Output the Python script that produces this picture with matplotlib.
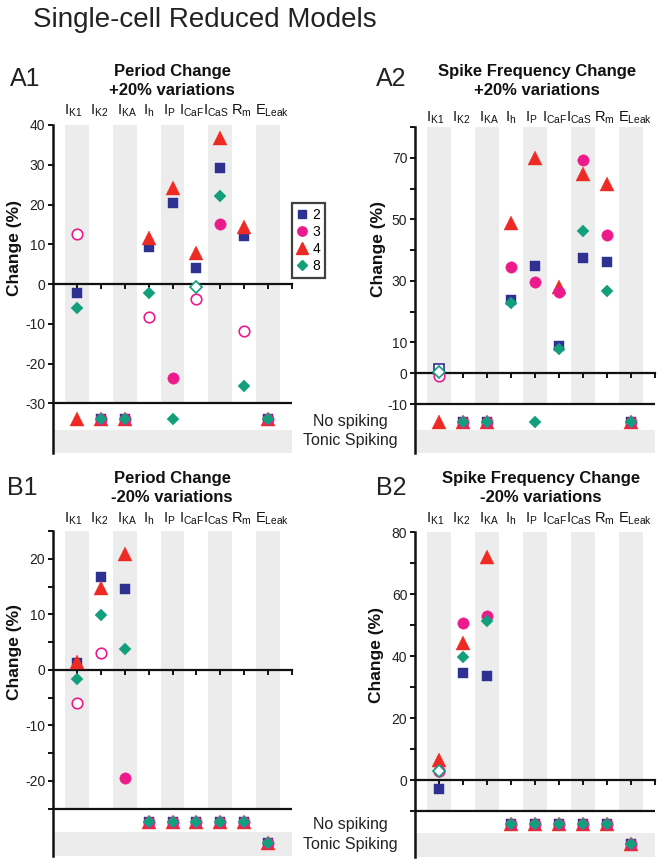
import matplotlib
matplotlib.use('Agg')
import matplotlib.pyplot as plt
from matplotlib.lines import Line2D

plt.rcParams['font.family'] = ['Liberation Sans', 'DejaVu Sans']
plt.rcParams['mathtext.fontset'] = 'custom'
plt.rcParams['mathtext.rm'] = 'Liberation Sans'
plt.rcParams['mathtext.it'] = 'Liberation Sans'
plt.rcParams['mathtext.bf'] = 'Liberation Sans:bold'
plt.rcParams['mathtext.default'] = 'regular'

W, H = 661, 863

# ---------------- data ----------------
categories = [r'$I_{K1}$', r'$I_{K2}$', r'$I_{KA}$', r'$I_{h}$', r'$I_{P}$',
              r'$I_{CaF}$', r'$I_{CaS}$', r'$R_{m}$', r'$E_{Leak}$']
series = ['2', '3', '4', '8']
NS, TS = 'NS', 'TS'   # No spiking / Tonic spiking

# A1: Period change, +20%
a1_s2 = [-2.3, NS, NS, 9.3, 20.4, 4.0, 29.3, 12.0, NS]
a1_s3 = [12.5, NS, NS, -8.3, -23.6, -3.7, 15.0, -11.8, NS]
a1_s4 = [NS, NS, NS, 11.5, 24.2, 7.7, 36.7, 14.4, NS]
a1_s8 = [-6.0, NS, NS, -2.2, NS, -0.8, 22.2, -25.6, NS]
a1_open = {'3': [0, 3, 5, 7], '8': [5]}

# A2: Spike frequency change, +20%
a2_s2 = [1.5, NS, NS, 23.8, 35.0, 8.7, 37.3, 36.0, NS]
a2_s3 = [-1.0, NS, NS, 34.5, 29.8, 26.5, 69.2, 44.8, NS]
a2_s4 = [NS, NS, NS, 48.8, 70.0, 28.0, 64.8, 61.5, NS]
a2_s8 = [0.5, NS, NS, 22.8, NS, 8.0, 46.3, 26.6, NS]
a2_open = {'2': [0], '3': [0], '8': [0]}

# B1: Period change, -20%
b1_s2 = [1.2, 16.8, 14.5, NS, NS, NS, NS, NS, TS]
b1_s3 = [-6.0, 3.0, -19.5, NS, NS, NS, NS, NS, TS]
b1_s4 = [1.5, 14.8, 20.9, NS, NS, NS, NS, NS, TS]
b1_s8 = [-1.7, 9.8, 3.8, NS, NS, NS, NS, NS, TS]
b1_open = {'3': [0, 1]}

# B2: Spike frequency change, -20%
b2_s2 = [-2.9, 34.5, 33.6, NS, NS, NS, NS, NS, TS]
b2_s3 = [2.9, 50.6, 52.8, NS, NS, NS, NS, NS, TS]
b2_s4 = [6.5, 44.1, 71.8, NS, NS, NS, NS, NS, TS]
b2_s8 = [2.9, 39.8, 51.3, NS, NS, NS, NS, NS, TS]
b2_open = {'3': [0], '8': [0]}

# ---------------- style ----------------
styles = {
    '2': dict(marker='s', ms=7.8, color='#2e3192'),
    '3': dict(marker='o', ms=8.2, color='#ec1b8c'),
    '4': dict(marker='^', ms=10.0, color='#ee2a24'),
    '8': dict(marker='D', ms=6.3, color='#12a07c'),
}
draw_order = ['2', '4', '3', '8']
GRAY = '#ececec'
# small horizontal nudges (pixels) of the column labels, as in the reference
label_nudge = [-3.5, -1.5, 2, 0, -3.5, -4.5, -4, -2.5, 4.5]

fig = plt.figure(figsize=(W / 100, H / 100), dpi=100)


def rect(x0, y0, x1, y1):
    return [x0 / W, 1 - y1 / H, (x1 - x0) / W, (y1 - y0) / H]


def fx(x):
    return x / W


def fy(y):
    return 1 - y / H


def draw_panel(box, data, opens, ylim, sep, ns_y, ts_y, band_top,
               major, minor, lab_off):
    ax = fig.add_axes(rect(*box))
    n = len(categories)
    ax.set_xlim(0, n + 1)
    ax.set_ylim(*ylim)
    for k in range(0, n, 2):
        ax.fill_between([k + 0.5, k + 1.5], sep, ylim[1], color=GRAY,
                        lw=0, zorder=0)
    ax.fill_between([0, n + 1], ylim[0], band_top, color=GRAY, lw=0, zorder=0)
    ax.plot([0, n + 1], [sep, sep], color='#111111', lw=1.6, zorder=2,
            solid_capstyle='butt')
    for s in ['top', 'right']:
        ax.spines[s].set_visible(False)
    ax.spines['bottom'].set_position(('data', 0))
    ax.spines['bottom'].set_linewidth(1.6)
    ax.spines['left'].set_linewidth(1.8)
    ax.spines['bottom'].set_color('#111111')
    ax.spines['left'].set_color('#111111')
    ax.set_xticks(range(1, n + 2))
    ax.set_xticklabels([])
    ax.tick_params(axis='x', direction='out', length=3.5, width=1.4,
                   color='#111111')
    ax.set_yticks(major)
    ax.set_yticklabels([str(v) for v in major])
    ax.set_yticks(minor, minor=True)
    ax.tick_params(axis='y', which='both', direction='out', length=3.5,
                   width=1.4, color='#111111', labelsize=10,
                   labelcolor='#222222', pad=2)
    for key in draw_order:
        vals = data[key]
        st = styles[key]
        op = opens.get(key, [])
        for i, v in enumerate(vals):
            if v is None:
                continue
            y = ns_y if v == NS else ts_y if v == TS else v
            if i in op:
                ax.plot(i + 1, y, linestyle='none', marker=st['marker'],
                        ms=st['ms'] - 0.6, mfc='white', mec=st['color'],
                        mew=1.2, zorder=4, clip_on=False)
            else:
                ax.plot(i + 1, y, linestyle='none', marker=st['marker'],
                        ms=st['ms'], mfc=st['color'], mec=st['color'],
                        mew=0.3, zorder=4, clip_on=False)
    for i, lab in enumerate(categories):
        ax.annotate(lab, xy=(i + 1, 1), xycoords=('data', 'axes fraction'),
                    xytext=(label_nudge[i] * 0.72, lab_off),
                    textcoords='offset points',
                    ha='center', va='baseline', fontsize=10.5, color='#111111')
    return ax


axA1 = draw_panel((53, 125, 292, 453),
                  {'2': a1_s2, '3': a1_s3, '4': a1_s4, '8': a1_s8}, a1_open,
                  (-42.5, 40), -30, -34, -39.6, -36.7,
                  list(range(-30, 41, 10)), [], 7.2)
axA2 = draw_panel((415, 127, 655, 453),
                  {'2': a2_s2, '3': a2_s3, '4': a2_s4, '8': a2_s8}, a2_open,
                  (-25.9, 80), -10, -15.8, -22.0, -18.4,
                  [-10, 0, 10, 30, 50, 70], [20, 40, 60, 80], 3.6)
axB1 = draw_panel((53, 531, 292, 856),
                  {'2': b1_s2, '3': b1_s3, '4': b1_s4, '8': b1_s8}, b1_open,
                  (-33.5, 25), -25, -27.4, -31.2, -29.2,
                  [-20, -10, 0, 10, 20], [-25, -15, -5, 5, 15, 25], 5.8)
axB2 = draw_panel((415, 532, 655, 857),
                  {'2': b2_s2, '3': b2_s3, '4': b2_s4, '8': b2_s8}, b2_open,
                  (-24.8, 80), -10, -14.2, -20.6, -17.1,
                  [0, 20, 40, 60, 80], [-10, 10, 30, 50, 70], 6.5)

handles = [Line2D([], [], linestyle='none', marker=styles[k]['marker'],
                  ms=styles[k]['ms'] * 0.82, mfc=styles[k]['color'],
                  mec=styles[k]['color'], label=k) for k in series]
leg = fig.legend(handles=handles, loc='upper left',
                 bbox_to_anchor=(fx(292), fy(203)),
                 bbox_transform=fig.transFigure, fontsize=10,
                 frameon=True, fancybox=False, handlelength=0.7,
                 handletextpad=0.4, labelspacing=0.22, borderpad=0.35,
                 borderaxespad=0)
leg.get_frame().set_edgecolor('#111111')
leg.get_frame().set_linewidth(1.6)

fig.text(fx(33), fy(27), 'Single-cell Reduced Models', fontsize=20,
         va='baseline', ha='left', color='#222222')

for lab, x, y in [('A1', 10, 86), ('A2', 376, 86), ('B1', 7, 495), ('B2', 376, 495)]:
    fig.text(fx(x), fy(y), lab, fontsize=18, va='baseline', ha='left',
             color='#222222')

titles = [('Period Change', '+20% variations', 172, 76, 95),
          ('Spike Frequency Change', '+20% variations', 537, 76, 95),
          ('Period Change', '-20% variations', 172, 483, 502),
          ('Spike Frequency Change', '-20% variations', 541, 483, 502)]
for t1, t2, x, y1, y2 in titles:
    fig.text(fx(x), fy(y1), t1, fontsize=12, fontweight='bold',
             ha='center', va='baseline', color='#111111')
    fig.text(fx(x), fy(y2), t2, fontsize=12, fontweight='bold',
             ha='center', va='baseline', color='#111111')

for x, y in [(15, 248), (378, 249), (15, 652), (377, 655)]:
    fig.text(fx(x), fy(y), 'Change (%)', fontsize=12.5, fontweight='bold',
             rotation=90, ha='center', va='center', color='#111111')

for y1, y2 in [(421, 440), (824, 844)]:
    fig.text(fx(350), fy(y1), 'No spiking', fontsize=11.5, ha='center',
             va='center', color='#222222')
    fig.text(fx(350), fy(y2), 'Tonic Spiking', fontsize=11.5, ha='center',
             va='center', color='#222222')

fig.savefig('out.png', dpi=100)
